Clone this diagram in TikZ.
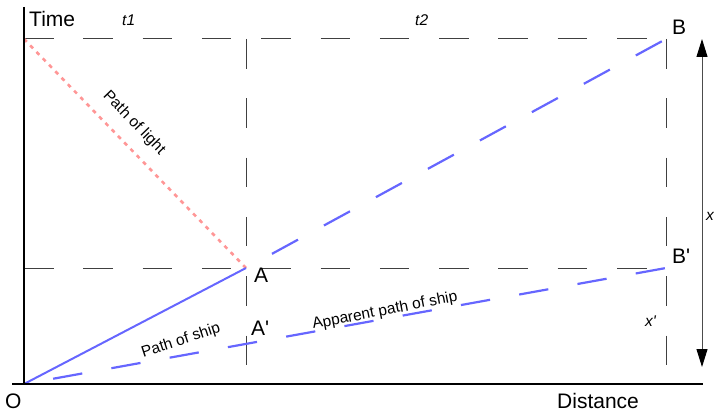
\documentclass[tikz,border=0pt]{standalone}
\usepackage{fontspec}
\setmainfont{Liberation Sans}[Ligatures=TeXOff]
\usetikzlibrary{arrows.meta}
\definecolor{shipblue}{RGB}{102,102,255}
\definecolor{lightpink}{RGB}{255,150,150}
\begin{document}
\begin{tikzpicture}[x=1pt,y=-1pt,
  axisline/.style={line width=2.2pt,black},
  guide/.style={line width=1pt,black!75,dash pattern=on 29.5pt off 29.8pt},
  shipdash/.style={line width=2.2pt,shipblue,dash pattern=on 0pt off 29.6pt on 29.6pt off 0pt},
  shipsolid/.style={line width=2pt,shipblue},
  lightpath/.style={line width=2.6pt,lightpink,dash pattern=on 4pt off 5pt},
  biglabel/.style={inner sep=0pt,anchor=base west,font=\fontsize{21}{21}\selectfont},
  smalllabel/.style={inner sep=0pt,font=\fontsize{15.5}{15.5}\selectfont},
  ital/.style={inner sep=0pt,anchor=base west,font=\fontsize{15.5}{15.5}\selectfont\itshape},
  measure/.style={line width=1pt,black!70,{Triangle[width=11pt,length=18pt,black]}-{Triangle[width=11pt,length=18pt,black]}}
]
\useasboundingbox (0,0) rectangle (714,412);
% key points
\coordinate (O) at (24,384);
\coordinate (A) at (246,268);
\coordinate (B) at (666,39);
\coordinate (Bp) at (666,268);
\coordinate (L0) at (24,39);
\coordinate (M0) at (24,268);
\coordinate (Atop) at (246,39);
\coordinate (Abot) at (246,384);
\coordinate (Bbot) at (666,384);
\coordinate (Ytop) at (24,7);
\coordinate (Ybot) at (24,385);
\coordinate (Xl) at (12,384);
\coordinate (Xr) at (703,384);
\coordinate (Xt) at (702,39);
\coordinate (Xb) at (702,367);
% guides
\draw[guide] (L0) -- (B);
\draw[guide] (M0) -- (Bp);
\draw[guide] (Atop) -- (Abot);
\draw[guide] (B) -- (Bbot);
% paths
\draw[lightpath] (L0) -- (A);
\draw[shipsolid] (O) -- (A);
\draw[shipdash] (A) -- (B);
\draw[shipdash] (O) -- (Bp);
% axes
\draw[axisline] (Ytop) -- (Ybot);
\draw[axisline] (Xl) -- (Xr);
% measure arrow
\draw[measure] (Xt) -- (Xb);
% labels
\node[biglabel] (time) at (29,27) {Time};
\node[biglabel] (dist) at (557,408) {Distance};
\node[biglabel] (lO) at (5,408) {O};
\node[biglabel] (lA) at (254,282) {A};
\node[biglabel] (lAp) at (251,335) {A'};
\node[biglabel] (lB) at (672,35) {B};
\node[biglabel] (lBp) at (672,263) {B'};
\node[ital] (t1) at (122,26) {t1};
\node[ital] (t2) at (415,26) {t2};
\node[ital] (lx) at (706,220) {x};
\node[ital] (lxp) at (645,326) {x'};
\node[smalllabel,rotate=-46] (pl) at (134,123) {Path of light};
\node[smalllabel,rotate=18] (ps) at (181,341) {Path of ship};
\node[smalllabel,rotate=11] (aps) at (385,311) {Apparent path of ship};
\end{tikzpicture}
\end{document}
